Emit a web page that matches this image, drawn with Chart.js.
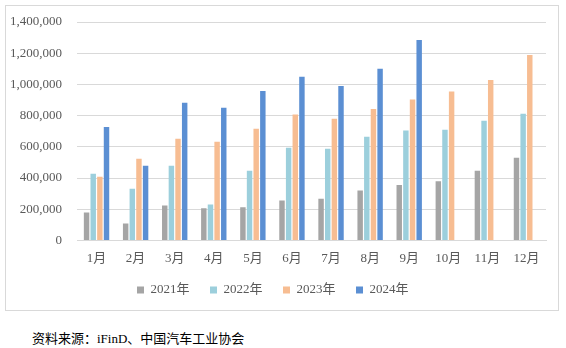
<!DOCTYPE html>
<html>
<head>
<meta charset="utf-8">
<script src="https://cdn.jsdelivr.net/npm/chart.js@4"></script>
<style>
  html, body { margin: 0; padding: 0; background: #fff; }
  body { width: 566px; height: 348px; position: relative; overflow: hidden; }
  #box { position: absolute; left: 5px; top: 5px; width: 552px; height: 304px; border: 1px solid #d9d9d9; }
  #source { position: absolute; left: 32px; top: 328px; font: 13px "Liberation Serif", "Noto Sans CJK SC", serif; color: #000; }
</style>
</head>
<body>
<div id="box"><canvas id="chart" width="552" height="304"></canvas></div>
<div id="source">资料来源：iFinD、中国汽车工业协会</div>
<script>
// ================= DATA =================
const months = ["1月", "2月", "3月", "4月", "5月", "6月", "7月", "8月", "9月", "10月", "11月", "12月"];
const y2021 = [179000, 109000, 224000, 206000, 213000, 256000, 268000, 320000, 356000, 379000, 447000, 530000];
const y2022 = [428000, 332000, 479000, 230000, 447000, 594000, 588000, 665000, 705000, 709000, 767000, 812000];
const y2023 = [409000, 524000, 652000, 633000, 716000, 807000, 780000, 843000, 903000, 954000, 1029000, 1188000];
const y2024 = [728000, 479000, 882000, 850000, 958000, 1050000, 990000, 1101000, 1284000, null, null, null];

const font = "'Liberation Serif', 'Noto Sans CJK SC', serif";

const ctx = document.getElementById("chart").getContext("2d");

new Chart(ctx, {
  type: "bar",
  data: {
    labels: months,
    datasets: [
      { label: "2021年", data: y2021, backgroundColor: "#a5a5a5" },
      { label: "2022年", data: y2022, backgroundColor: "#9ccfdc" },
      { label: "2023年", data: y2023, backgroundColor: "#f7bd92" },
      { label: "2024年", data: y2024, backgroundColor: "#5b8fd3" }
    ]
  },
  options: {
    responsive: false,
    animation: false,
    datasets: {
      bar: { categoryPercentage: 0.68, barPercentage: 0.82 }
    },
    layout: {
      padding: { left: 0, right: 12, top: 16, bottom: 3.5 }
    },
    plugins: {
      legend: {
        position: "bottom",
        labels: {
          boxWidth: 7,
          boxHeight: 7,
          padding: 14,
          color: "#595959",
          font: { family: font, size: 13 },
          // extra trailing space keeps the wide gap between legend items
          generateLabels: (chart) =>
            Chart.defaults.plugins.legend.labels.generateLabels(chart).map((l) => ({ ...l, text: l.text + "  " }))
        }
      },
      tooltip: { enabled: false }
    },
    scales: {
      x: {
        afterFit: (scale) => { scale.height = 29; },
        grid: { display: false, drawTicks: false },
        border: { color: "#d9d9d9" },
        ticks: {
          color: "#595959",
          padding: 10,
          font: { family: font, size: 13 }
        }
      },
      y: {
        min: 0,
        max: 1400000,
        afterFit: (scale) => { scale.width = 71; },
        grid: { color: "#d9d9d9", tickLength: 10, tickColor: "rgba(0,0,0,0)" },
        border: { display: false },
        ticks: {
          stepSize: 200000,
          padding: 5,
          color: "#595959",
          font: { family: font, size: 13 },
          callback: (v) => v.toLocaleString("en-US")
        }
      }
    }
  }
});
</script>
</body>
</html>
